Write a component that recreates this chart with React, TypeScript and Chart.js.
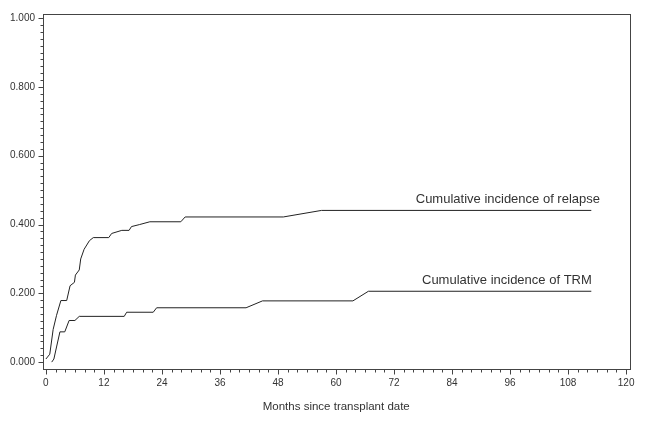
import React, { useEffect, useRef } from "react";
import { Chart, registerables } from "chart.js";

Chart.register(...registerables);

const relapseMonths = [0, 0.8, 1.5, 2.2, 3.1, 4.3, 5.0, 5.9, 6.1, 6.9, 7.2, 7.9, 9.0, 9.8, 13.0, 13.6, 15.7, 17.2, 17.7, 19.4, 21.5, 27.9, 28.8, 49.1, 57.0, 112.8];
const relapseCI = [0.009, 0.023, 0.095, 0.136, 0.179, 0.179, 0.222, 0.232, 0.253, 0.268, 0.3, 0.328, 0.353, 0.362, 0.362, 0.374, 0.383, 0.383, 0.394, 0.4, 0.408, 0.408, 0.422, 0.422, 0.441, 0.441];

const trmMonths = [1.2, 1.65, 2.2, 2.9, 3.9, 4.8, 6.0, 6.9, 16.2, 16.7, 22.2, 22.9, 41.4, 44.8, 63.5, 66.7, 112.8];
const trmCI = [0.0, 0.009, 0.044, 0.088, 0.088, 0.121, 0.121, 0.133, 0.133, 0.145, 0.145, 0.158, 0.158, 0.178, 0.178, 0.206, 0.206];

const xMajorTicks = [0, 12, 24, 36, 48, 60, 72, 84, 96, 108, 120];
const yMajorTicks = [0, 0.2, 0.4, 0.6, 0.8, 1.0];

const curveLabels = ["Cumulative incidence of relapse", "Cumulative incidence of TRM"];
const labelMonths = [114.6, 112.9];
const labelValues = [0.4735, 0.237];

const xTitle = "Months since transplant date";

const FONT = "'Liberation Sans', Arial, sans-serif";
const INK = "#333";

const framePlugin = {
  id: "frameAndTicks",
  afterDraw(chart: any) {
    const { ctx, chartArea, scales } = chart;
    const xs = scales.x;
    const ys = scales.y;
    ctx.save();
    ctx.strokeStyle = "#444";
    ctx.lineWidth = 1;
    const l = Math.round(chartArea.left) + 0.5;
    const r = Math.round(chartArea.right) + 0.5;
    const t = Math.round(chartArea.top) + 0.5;
    const b = Math.round(chartArea.bottom) + 0.5;
    ctx.strokeRect(l, t, r - l, b - t);
    ctx.beginPath();
    for (let v = 0; v <= 120; v += 2) {
      const px = Math.round(xs.getPixelForValue(v)) + 0.5;
      const len = v % 12 === 0 ? 5 : 3;
      ctx.moveTo(px, b);
      ctx.lineTo(px, b + len);
    }
    for (let i = 0; i <= 50; i++) {
      const v = i * 0.02;
      const py = Math.round(ys.getPixelForValue(v)) + 0.5;
      const len = i % 10 === 0 ? 5 : 3;
      ctx.moveTo(l, py);
      ctx.lineTo(l - len, py);
    }
    ctx.stroke();

    ctx.fillStyle = INK;
    ctx.font = `13px ${FONT}`;
    ctx.textAlign = "right";
    ctx.textBaseline = "middle";
    for (let i = 0; i < curveLabels.length; i++) {
      ctx.fillText(curveLabels[i], xs.getPixelForValue(labelMonths[i]), ys.getPixelForValue(labelValues[i]));
    }
    ctx.restore();
  },
};

export default function App() {
  const ref = useRef<HTMLCanvasElement | null>(null);

  useEffect(() => {
    if (!ref.current) return;
    const chart = new Chart(ref.current, {
      type: "line",
      data: {
        datasets: [
          {
            label: "Relapse",
            data: relapseMonths.map((m, i) => ({ x: m, y: relapseCI[i] })),
            borderColor: "#222",
            borderWidth: 1,
            pointRadius: 0,
            fill: false,
            tension: 0,
          },
          {
            label: "TRM",
            data: trmMonths.map((m, i) => ({ x: m, y: trmCI[i] })),
            borderColor: "#222",
            borderWidth: 1,
            pointRadius: 0,
            fill: false,
            tension: 0,
          },
        ],
      },
      options: {
        animation: false,
        responsive: false,
        maintainAspectRatio: false,
        layout: { padding: { top: 12, right: 15.5, left: 0, bottom: 0 } },
        plugins: {
          legend: { display: false },
          tooltip: { enabled: false },
          title: { display: false },
        },
        scales: {
          x: {
            type: "linear",
            min: -0.6,
            max: 120.7,
            grid: { display: false, drawTicks: false },
            border: { display: false },
            afterBuildTicks: (scale: any) => {
              scale.ticks = xMajorTicks.map((v) => ({ value: v }));
            },
            afterFit: (scale: any) => {
              scale.height = 54;
            },
            ticks: {
              autoSkip: false,
              maxRotation: 0,
              padding: 8,
              color: INK,
              font: { family: FONT, size: 10 },
              callback: (v: any) => String(v),
            },
            title: {
              display: true,
              text: xTitle,
              color: INK,
              font: { family: FONT, size: 11.5 },
              padding: { top: 0, bottom: 9 },
            },
          },
          y: {
            type: "linear",
            min: -0.02,
            max: 1.012,
            grid: { display: false, drawTicks: false },
            border: { display: false },
            afterBuildTicks: (scale: any) => {
              scale.ticks = yMajorTicks.map((v) => ({ value: v }));
            },
            afterFit: (scale: any) => {
              scale.width = 43;
            },
            ticks: {
              autoSkip: false,
              padding: 8,
              color: INK,
              font: { family: FONT, size: 10 },
              callback: (v: any) => Number(v).toFixed(3),
            },
          },
        },
      },
      plugins: [framePlugin],
    });
    return () => chart.destroy();
  }, []);

  return (
    <div style={{ position: "absolute", left: 0, top: 0, width: 645, height: 423, background: "#fff" }}>
      <canvas ref={ref} width={645} height={423} style={{ width: 645, height: 423, display: "block" }} />
    </div>
  );
}
